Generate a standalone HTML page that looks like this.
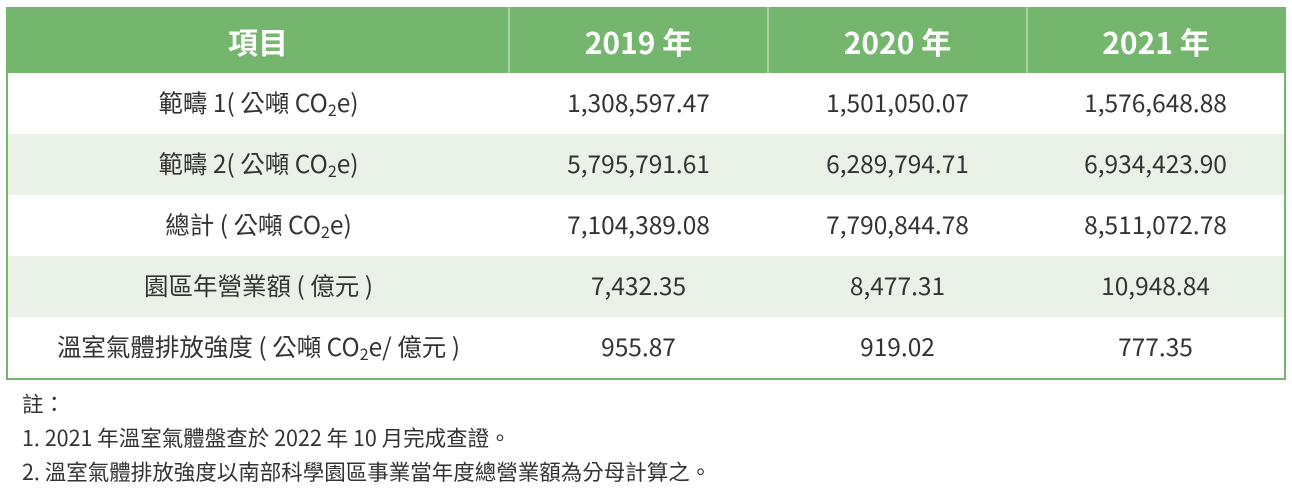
<!DOCTYPE html>
<html><head><meta charset="utf-8"><style>
body{margin:0;width:1292px;height:490px;background:#fff;font-family:"Noto Sans CJK TC","Liberation Sans",sans-serif;color:#333;overflow:hidden;position:relative}
table{position:absolute;left:6px;top:7px;width:1278px;border-collapse:collapse;border:2px solid #74b66e;table-layout:fixed}
th{background:#74b66e;color:#fff;font-size:30px;font-weight:bold;height:64px;padding:0;border-left:2px solid #a9d1a4;line-height:1}
th:first-child{border-left:none}
td{height:61px;padding:0;text-align:center;font-size:24.5px;line-height:1}
tr.alt td{background:#eaf2e8}
sub{font-size:16px;vertical-align:-4px;line-height:0}
.notes{position:absolute;left:22px;top:387px;font-size:21.5px;line-height:34px;color:#333}
</style></head><body>
<table>
<colgroup><col style="width:502px"><col style="width:259px"><col style="width:259px"><col style="width:258px"></colgroup>
<tr><th>項目</th><th>2019 年</th><th>2020 年</th><th>2021 年</th></tr>
<tr><td>範疇 1( 公噸 CO<sub>2</sub>e)</td><td>1,308,597.47</td><td>1,501,050.07</td><td>1,576,648.88</td></tr>
<tr class="alt"><td>範疇 2( 公噸 CO<sub>2</sub>e)</td><td>5,795,791.61</td><td>6,289,794.71</td><td>6,934,423.90</td></tr>
<tr><td>總計 ( 公噸 CO<sub>2</sub>e)</td><td>7,104,389.08</td><td>7,790,844.78</td><td>8,511,072.78</td></tr>
<tr class="alt"><td>園區年營業額 ( 億元 )</td><td>7,432.35</td><td>8,477.31</td><td>10,948.84</td></tr>
<tr><td>溫室氣體排放強度 ( 公噸 CO<sub>2</sub>e/ 億元 )</td><td>955.87</td><td>919.02</td><td>777.35</td></tr>
</table>
<div class="notes">
<div>註：</div>
<div>1. 2021 年溫室氣體盤查於 2022 年 10 月完成查證。</div>
<div>2. 溫室氣體排放強度以南部科學園區事業當年度總營業額為分母計算之。</div>
</div>
</body></html>
